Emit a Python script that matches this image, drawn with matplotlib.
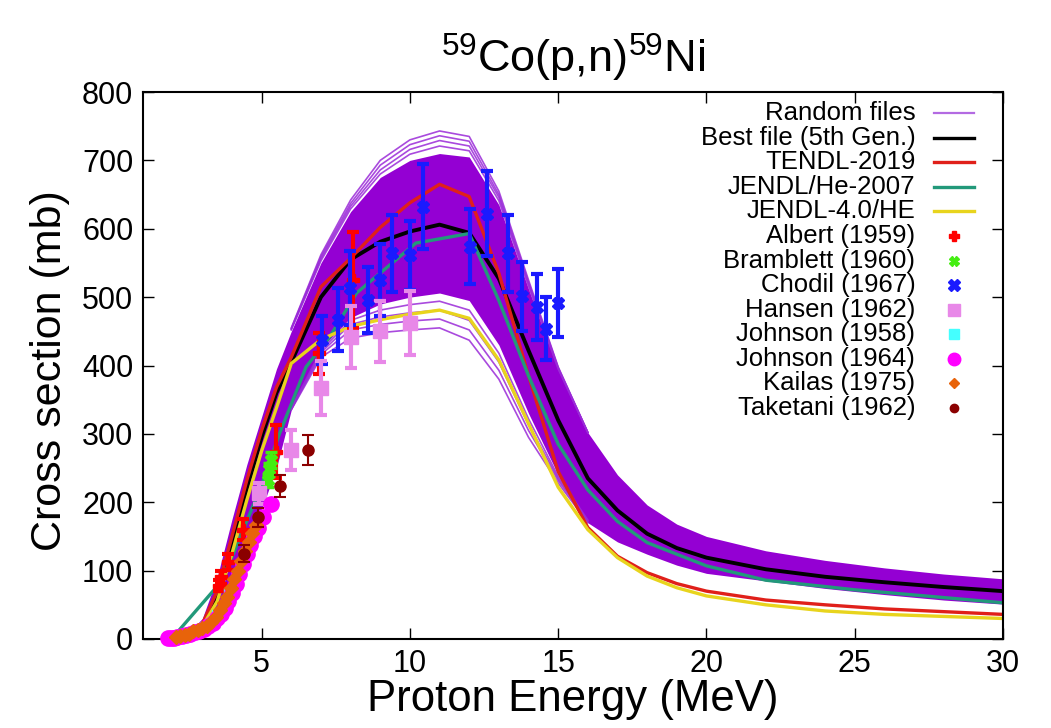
import matplotlib
matplotlib.use("Agg")
import matplotlib.pyplot as plt

plt.rcParams['font.family'] = ['Liberation Sans', 'DejaVu Sans']
plt.rcParams['mathtext.fontset'] = 'custom'
plt.rcParams['mathtext.rm'] = 'Liberation Sans'
plt.rcParams['mathtext.it'] = 'Liberation Sans'

# ---------------- model curves ----------------
E_model = [2, 2.5, 3, 3.5, 4, 4.5, 5, 5.5, 6, 7, 8, 9, 10, 11, 12, 13, 14, 15,
           16, 17, 18, 19, 20, 22, 24, 26, 28, 30]
best_file = [0, 4, 18, 60, 140, 220, 295, 360, 405, 500, 555, 581, 596, 606, 594,
             527, 422, 320, 235, 188, 154, 133, 119, 102, 91, 83, 76, 70]
tendl_2019 = [0, 5, 22, 70, 150, 232, 305, 368, 412, 515, 557, 602, 638, 665, 647,
              535, 385, 245, 163, 121, 97, 81, 70, 57, 50, 44, 40, 36]
jendl4_he = [0, 4, 18, 55, 125, 203, 275, 338, 403, 438, 457, 467, 475, 481, 469,
             408, 315, 222, 160, 119, 92, 75, 63, 50, 41, 36, 33, 30]

E_jendl_he = [2.0, 2.2, 3.6, 4, 5, 5.6, 6.5, 7.3, 8.2, 10.2, 12, 13, 14, 15, 16,
              17, 18, 20, 22, 25, 30]
jendl_he_2007 = [0, 12, 82, 120, 225, 300, 398, 442, 506, 579, 593, 495, 385, 285,
                 218, 172, 141, 107, 86, 72, 53]

# random files: dense core envelope
rand_dense_upper = [0, 8, 30, 90, 175, 255, 325, 395, 450, 550, 625, 675, 700, 710,
                    705, 635, 512, 394, 302, 240, 196, 168, 150, 129, 115, 104, 95, 88]
rand_dense_lower = [0, 2, 8, 28, 90, 145, 190, 250, 335, 425, 470, 490, 500, 506,
                    495, 430, 330, 240, 170, 142, 124, 108, 96, 85, 74, 65, 57, 51]
# random files: individual outlying curves
E_rand_out = [6, 7, 8, 9, 10, 11, 12, 13, 14, 15, 16]
rand_top1 = [455, 562, 642, 700, 730, 743, 735, 655, 525, 398, 302]
rand_top2 = [454, 559, 637, 693, 723, 736, 728, 650, 522, 397, 302]
rand_top3 = [453, 556, 633, 686, 716, 729, 721, 646, 519, 396, 302]
rand_top4 = [452, 553, 629, 680, 709, 721, 714, 641, 516, 395, 302]
rand_bot1 = [335, 412, 440, 448, 452, 455, 437, 380, 295, 228, 170]
rand_bot2 = [336, 416, 452, 460, 465, 468, 452, 393, 305, 232, 172]
rand_bot3 = [337, 419, 460, 471, 477, 481, 466, 405, 313, 235, 173]
rand_bot4 = [338, 422, 466, 481, 489, 494, 481, 418, 322, 238, 174]

# ---------------- experimental data ----------------
albert_E = [3.55, 3.62, 3.87, 4.38, 5.5, 6.95, 8.08]
albert_s = [78, 90, 113, 160, 274, 418, 525]
albert_err = [8, 10, 12, 15, 39, 30, 70]

bramblett_E = [5.2, 5.25, 5.3]
bramblett_s = [232, 248, 262]
bramblett_err = [10, 10, 12]

chodil_E = [7.03, 7.59, 7.98, 8.6, 8.99, 9.38, 10.0, 10.43, 12.02, 12.59, 13.32,
            13.77, 14.27, 14.6, 15.0]
chodil_s = [437, 467, 513, 496, 525, 564, 561, 632, 574, 622, 564, 501, 486, 454, 491]
chodil_err = [35, 46, 54, 48, 53, 56, 51, 62, 55, 62, 56, 50, 48, 46, 50]

hansen_E = [4.92, 6.0, 7.0, 8.0, 9.0, 10.0]
hansen_s = [213, 276, 367, 442, 450, 462]
hansen_err = [15, 29, 39, 45, 45, 47]

johnson58_E = [3.1, 3.5, 3.9]
johnson58_s = [18, 35, 68]

johnson64_E = [1.85, 1.95, 2.05, 2.15, 2.3, 2.45, 2.6, 2.75, 2.9, 3.05, 3.2, 3.35,
               3.5, 3.62, 3.75, 3.87, 4.0, 4.12, 4.25, 4.38, 4.5, 4.62, 4.75, 4.87,
               5.06, 5.3]
johnson64_s = [1, 1, 2, 3, 4, 6, 8, 10, 12, 15, 19, 23, 30, 37, 46, 56, 68, 80, 95,
               110, 124, 137, 150, 162, 178, 198]

kailas_E = [2.1, 2.25, 2.4, 2.55, 2.7, 2.85, 3.0, 3.15, 3.3, 3.45, 3.6, 3.72, 3.84,
            3.96, 4.08, 4.2, 4.32, 4.44, 4.56, 4.68, 4.8]
kailas_s = [3, 5, 6, 8, 11, 13, 16, 19, 25, 32, 42, 52, 62, 74, 88, 100, 114, 128,
            142, 155, 166]

taketani_E = [4.4, 4.88, 5.62, 6.57]
taketani_s = [125, 178, 224, 276]
taketani_err = [12, 14, 16, 22]

x_ticks = [5, 10, 15, 20, 25, 30]
y_ticks = [0, 100, 200, 300, 400, 500, 600, 700, 800]

# ---------------- colours ----------------
C_RAND = '#9400d3'
C_RAND_LEG = '#b36ae2'
C_BEST = '#000000'
C_TENDL = '#e0201a'
C_JHE = '#22997a'
C_J4 = '#e8d41d'

fig = plt.figure(figsize=(10.51, 7.28), dpi=100)
ax = fig.add_axes([143 / 1051, 89 / 728, 860 / 1051, 547 / 728])

# random files band
ax.fill_between(E_model, rand_dense_lower, rand_dense_upper, color=C_RAND,
                linewidth=0, zorder=1)
for curve in (rand_top1, rand_top2, rand_top3, rand_top4,
              rand_bot1, rand_bot2, rand_bot3, rand_bot4):
    ax.plot(E_rand_out, curve, color='#9a2ad8', lw=1.2, alpha=0.85, zorder=1.1)

# model lines
ax.plot(E_model, best_file, color=C_BEST, lw=2.8, zorder=2)
ax.plot(E_model, tendl_2019, color=C_TENDL, lw=2.4, zorder=2.1)
ax.plot(E_jendl_he, jendl_he_2007, color=C_JHE, lw=2.4, zorder=2.2)
ax.plot(E_model, jendl4_he, color=C_J4, lw=2.4, zorder=2.3)

# experimental data
ax.errorbar(albert_E, albert_s, yerr=albert_err, fmt='P', color='#ff0000', ms=8,
            elinewidth=3, capsize=4.5, capthick=3, zorder=3, clip_on=False)
ax.errorbar(bramblett_E, bramblett_s, yerr=bramblett_err, fmt='X', color='#44ee11',
            ms=8, elinewidth=2.5, capsize=4, capthick=2.5, zorder=3.1)
ax.errorbar(chodil_E, chodil_s, yerr=chodil_err, fmt='X', color='#1a1aff', ms=8,
            elinewidth=3, capsize=4.5, capthick=3, zorder=3.2)
ax.errorbar(hansen_E, hansen_s, yerr=hansen_err, fmt='s', color='#e888e8', ms=10.5,
            elinewidth=3, capsize=4.5, capthick=3, zorder=3.3)
ax.plot(johnson58_E, johnson58_s, 's', color='#44ffff', ms=7, zorder=3.35)
ax.plot(johnson64_E, johnson64_s, 'o', color='#ff00ff', ms=11, zorder=3.4,
        clip_on=False)
ax.plot(kailas_E, kailas_s, 'D', color='#e8630a', ms=7.5, zorder=3.5, clip_on=False)
ax.errorbar(taketani_E, taketani_s, yerr=taketani_err, fmt='o', color='#8b0000', ms=8,
            elinewidth=1.5, capsize=4.5, capthick=1.5, zorder=3.6)

# axes
ax.set_xlim(1, 30)
ax.set_ylim(0, 800)
ax.set_xticks(x_ticks)
ax.set_yticks(y_ticks)
ax.tick_params(direction='in', length=8, width=1, top=True, right=True,
               labelsize=22, pad=7)
ax.tick_params(axis='x', pad=7)
for s in ax.spines.values():
    s.set_linewidth(1.5)

ax.set_xlabel('Proton Energy (MeV)', fontsize=31.5, va='center')
ax.xaxis.set_label_coords(0.5, -0.11)
ax.set_ylabel('Cross section (mb)', fontsize=31, va='center')
ax.yaxis.set_label_coords(-0.108, 0.49)
ax.set_title(r'$^{59}$Co(p,n)$^{59}$Ni', fontsize=32.5, y=1.047, va='center')

# manual legend (right-aligned text, samples on the right)
legend_entries = [
    ('Random files', 'line', C_RAND_LEG, None),
    ('Best file (5th Gen.)', 'line', C_BEST, None),
    ('TENDL-2019', 'line', C_TENDL, None),
    ('JENDL/He-2007', 'line', C_JHE, None),
    ('JENDL-4.0/HE', 'line', C_J4, None),
    ('Albert (1959)', 'mark', '#ff0000', ('P', 7)),
    ('Bramblett (1960)', 'mark', '#44ee11', ('X', 7)),
    ('Chodil (1967)', 'mark', '#1a1aff', ('X', 8)),
    ('Hansen (1962)', 'mark', '#e888e8', ('s', 8)),
    ('Johnson (1958)', 'mark', '#44ffff', ('s', 7)),
    ('Johnson (1964)', 'mark', '#ff00ff', ('o', 9)),
    ('Kailas (1975)', 'mark', '#e8630a', ('D', 5)),
    ('Taketani (1962)', 'mark', '#8b0000', ('o', 6)),
]
y0 = 0.961
dy = 0.04485
for i, (lab, kind, col, mk) in enumerate(legend_entries):
    y = y0 - i * dy
    ax.text(0.898, y, lab, transform=ax.transAxes, ha='right', va='center',
            fontsize=18.5, zorder=5)
    if kind == 'line':
        ax.plot([0.92, 0.966], [y, y], transform=ax.transAxes, color=col,
                lw=2.4 if col != C_RAND_LEG else 1.6, zorder=5, clip_on=False)
    else:
        ax.plot([0.943], [y], transform=ax.transAxes, marker=mk[0], ms=mk[1],
                color=col, linestyle='none', zorder=5, clip_on=False)

fig.savefig('out.png', dpi=100)
